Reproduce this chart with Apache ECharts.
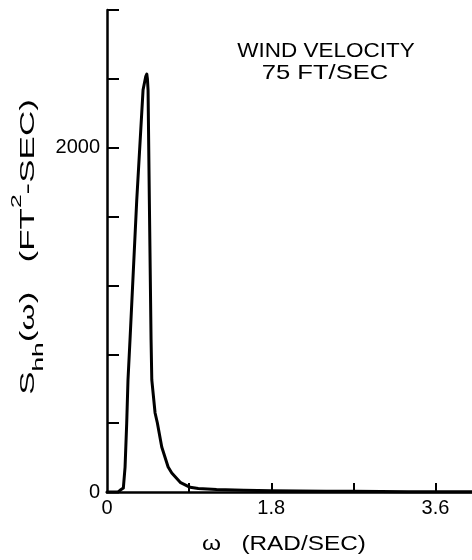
<!DOCTYPE html>
<html>
<head>
<meta charset="utf-8">
<script src="https://cdn.jsdelivr.net/npm/echarts@6/dist/echarts.min.js"></script>
<style>
  html, body { margin: 0; padding: 0; background: #ffffff; }
  #chart { width: 472px; height: 560px; }
</style>
</head>
<body>
<div id="chart"></div>
<script>
// Angular frequency omega (rad/sec)
const omega = [0, 0.121, 0.143, 0.179, 0.198, 0.216, 0.23, 0.252, 0.326, 0.395, 0.425, 0.436, 0.443, 0.45, 0.464, 0.483, 0.491, 0.527, 0.552, 0.60, 0.67, 0.71, 0.807, 0.911, 1.0, 1.2, 1.5, 1.8, 2.1, 2.4, 2.7, 3.0, 3.3, 3.6, 4.0];
// Spectral density S_hh(omega) (ft^2-sec)
const psd = [0, 0, 10, 23, 145, 401, 651, 883, 1696, 2335, 2415, 2428, 2400, 2335, 1696, 883, 651, 459, 401, 261, 145, 110, 54, 27, 20, 14, 10, 7, 6, 5, 4, 3, 2, 2, 2];
// Tick marks and labels
const xTicks = [0.9, 1.8, 2.7, 3.6];
const xLabels = [0, 1.8, 3.6];
const yLabels = [0, 2000];
const annotation = ['WIND VELOCITY', '75 FT/SEC'];
const xTitle = 'ω   (RAD/SEC)';
const yTitle = '{m|S}{s|hh}{m|(ω)   (FT}{p|2}{m|-SEC)}';

const FONT = '"Liberation Sans", Arial, sans-serif';
const chart = echarts.init(document.getElementById('chart'), null, { renderer: 'canvas' });

chart.setOption({
  backgroundColor: '#ffffff',
  animation: false,
  grid: { left: 107, right: 0, top: 10, bottom: 68, containLabel: false },
  xAxis: {
    type: 'value',
    min: 0, max: 4.0,
    axisLine: { show: true, onZero: false, lineStyle: { color: '#000', width: 2.5 } },
    axisTick: { show: true, inside: true, length: 9, customValues: xTicks, lineStyle: { color: '#000', width: 2 } },
    axisLabel: { show: true, customValues: xLabels, margin: 6, color: '#000', fontSize: 20, fontFamily: FONT,
      formatter: v => (v === 0 ? '0' : v.toFixed(1)) },
    splitLine: { show: false }
  },
  yAxis: {
    type: 'value',
    min: 0, max: 2800, interval: 400,
    axisLine: { show: true, onZero: false, lineStyle: { color: '#000', width: 2.5 } },
    axisTick: { show: true, inside: true, length: 12, lineStyle: { color: '#000', width: 2 } },
    axisLabel: { show: true, customValues: yLabels, margin: 7, color: '#000', fontSize: 20, fontFamily: FONT,
      formatter: v => String(v) },
    splitLine: { show: false }
  },
  graphic: [
    {
      type: 'text', x: 326, y: 51, scaleX: 1.07,
      style: { text: annotation[0], fill: '#000', fontSize: 21, fontFamily: FONT, align: 'center', verticalAlign: 'middle' }
    },
    {
      type: 'text', x: 325, y: 73, scaleX: 1.22,
      style: { text: annotation[1], fill: '#000', fontSize: 21, fontFamily: FONT, align: 'center', verticalAlign: 'middle' }
    },
    {
      type: 'text', x: 284, y: 544, scaleX: 1.16,
      style: { text: xTitle, fill: '#000', fontSize: 21, fontFamily: FONT, align: 'center', verticalAlign: 'middle' }
    },
    {
      type: 'text', x: 28, y: 247, rotation: Math.PI / 2, scaleX: 1.75,
      style: {
        text: yTitle, fill: '#000', fontFamily: FONT, align: 'center', verticalAlign: 'middle',
        rich: {
          m: { fontSize: 20, lineHeight: 36, verticalAlign: 'middle', fill: '#000', fontFamily: FONT },
          s: { fontSize: 15, lineHeight: 15, verticalAlign: 'bottom', fill: '#000', fontFamily: FONT },
          p: { fontSize: 14, lineHeight: 14, verticalAlign: 'top', fill: '#000', fontFamily: FONT }
        }
      }
    }
  ],
  series: [{
    type: 'line',
    data: omega.map((w, i) => [w, psd[i]]),
    showSymbol: false,
    symbol: 'none',
    smooth: false,
    lineStyle: { color: '#000', width: 3, join: 'round', cap: 'round' },
    clip: false
  }]
});
</script>
</body>
</html>
